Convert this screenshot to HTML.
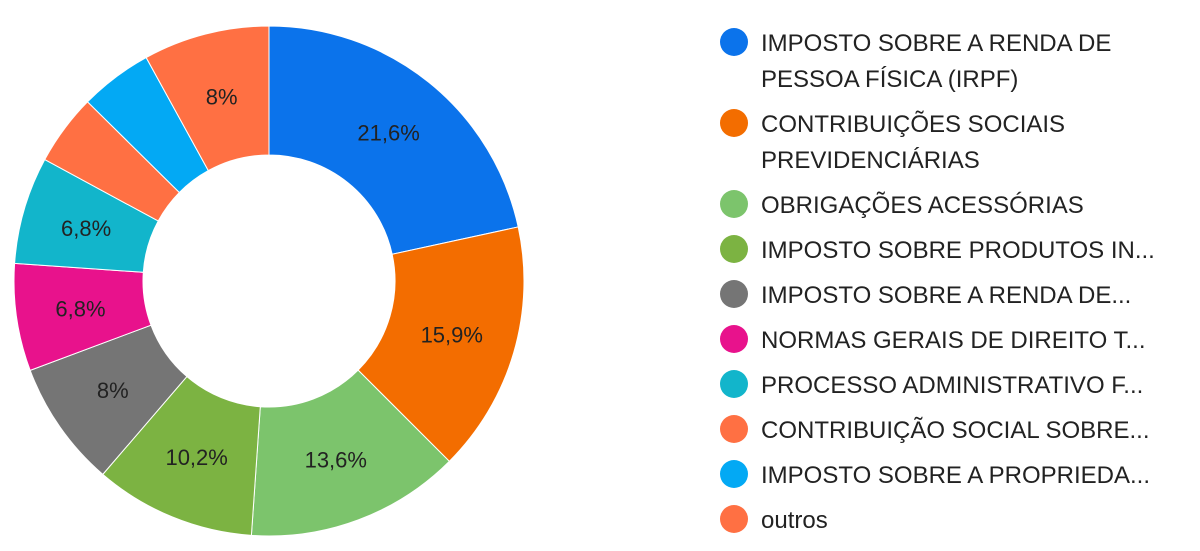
<!DOCTYPE html>
<html><head><meta charset="utf-8"><style>
body{margin:0;background:#fff;font-family:"Liberation Sans",sans-serif}
svg{display:block}
</style></head><body>
<svg width="1200" height="551" id="chart">
<g id="slices"></g>
<g id="labels"></g>
<g id="legend"></g>
</svg>
<script>
const categories=[["IMPOSTO SOBRE A RENDA DE","PESSOA FÍSICA (IRPF)"],["CONTRIBUIÇÕES SOCIAIS","PREVIDENCIÁRIAS"],["OBRIGAÇÕES ACESSÓRIAS"],["IMPOSTO SOBRE PRODUTOS IN..."],["IMPOSTO SOBRE A RENDA DE..."],["NORMAS GERAIS DE DIREITO T..."],["PROCESSO ADMINISTRATIVO F..."],["CONTRIBUIÇÃO SOCIAL SOBRE..."],["IMPOSTO SOBRE A PROPRIEDA..."],["outros"]];
const values=[21.6,15.9,13.6,10.2,8,6.8,6.8,4.5,4.6,8];
const valueLabels=["21,6%","15,9%","13,6%","10,2%","8%","6,8%","6,8%","","","8%"];
const colors=["#0b73eb","#f36d00","#7cc46c","#7cb342","#757575","#e8128c","#12b5cb","#ff7043","#03a9f4","#ff7043"];
const NS="http://www.w3.org/2000/svg";
const cx=269,cy=281,R=255,r=126;
const total=values.reduce((a,b)=>a+b,0);
const sg=document.getElementById('slices'),lg=document.getElementById('labels'),leg=document.getElementById('legend');
function pt(a,rad){return [cx+rad*Math.sin(a),cy-rad*Math.cos(a)];}
let acc=0;
values.forEach((v,i)=>{
 const a0=acc/total*2*Math.PI;acc+=v;const a1=acc/total*2*Math.PI;
 const big=(a1-a0)>Math.PI?1:0;
 const p0=pt(a0,R),p1=pt(a1,R),q1=pt(a1,r),q0=pt(a0,r);
 const p=document.createElementNS(NS,'path');
 p.setAttribute('d',`M${p0[0]},${p0[1]}A${R},${R} 0 ${big} 1 ${p1[0]},${p1[1]}L${q1[0]},${q1[1]}A${r},${r} 0 ${big} 0 ${q0[0]},${q0[1]}Z`);
 p.setAttribute('fill',colors[i]);p.setAttribute('stroke','#fff');p.setAttribute('stroke-width','1');
 
 
 sg.appendChild(p);
 if(valueLabels[i]){
  const m=pt((a0+a1)/2,(R+r)/2);
  const t=document.createElementNS(NS,'text');
  t.setAttribute('x',m[0]);t.setAttribute('y',m[1]+8);t.setAttribute('text-anchor','middle');
  t.setAttribute('font-size','22');t.setAttribute('fill','#222');
  t.textContent=valueLabels[i];
  
  
  lg.appendChild(t);
 }
});
let y=42;
categories.forEach((lines,i)=>{
 const g=document.createElementNS(NS,'g');
 
 
 const c=document.createElementNS(NS,'circle');
 c.setAttribute('cx',734);c.setAttribute('cy',y);c.setAttribute('r',14);c.setAttribute('fill',colors[i]);
 g.appendChild(c);
 lines.forEach((s,j)=>{
  const t=document.createElementNS(NS,'text');
  t.setAttribute('x',761);t.setAttribute('y',y+9+j*36);t.setAttribute('font-size','24');t.setAttribute('fill','#222');
  t.textContent=s;g.appendChild(t);
 });
 leg.appendChild(g);
 y+=lines.length>1?81:45;
});
</script>
</body></html>
